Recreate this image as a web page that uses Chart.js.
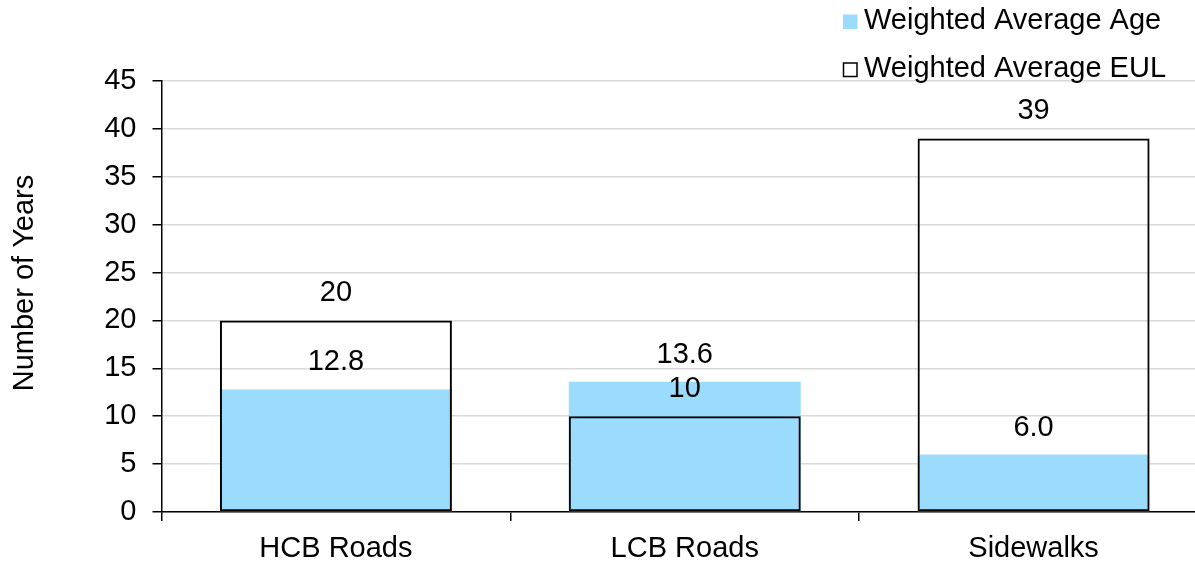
<!DOCTYPE html>
<html>
<head>
<meta charset="utf-8">
<script src="https://cdn.jsdelivr.net/npm/chart.js@4/dist/chart.umd.min.js"></script>
<style>
  html, body { margin: 0; padding: 0; background: #fff; overflow: hidden; }
  canvas { display: block; }
</style>
</head>
<body>
<canvas id="ageChart" width="1210" height="562"></canvas>
<script>
const categories = ['HCB Roads', 'LCB Roads', 'Sidewalks'];
const avgAge = [12.8, 13.6, 6.0];
const avgEul = [20, 10, 39];
const yTicks = [0, 5, 10, 15, 20, 25, 30, 35, 40, 45];

const FONT = '"Liberation Sans", Arial, sans-serif';
const FONT_SIZE = 29;
const AGE_BLUE = '#9BDCFD';

// value labels above each bar + legend + y title
const overlay = {
    id: 'overlay',
    afterDatasetsDraw(chart) {
        const ctx = chart.ctx;
        ctx.save();
        ctx.fillStyle = '#000';
        ctx.font = FONT_SIZE + 'px ' + FONT;
        ctx.textAlign = 'center';
        ctx.textBaseline = 'alphabetic';
        chart.data.datasets.forEach((ds, i) => {
            chart.getDatasetMeta(i).data.forEach((bar, j) => {
                ctx.fillText(ds.data[j].toFixed(ds.decimals), bar.x, bar.y - 19);
            });
        });

        // legend
        ctx.textAlign = 'left';
        const rows = [
            { text: chart.data.datasets[0].label, base: 29, fill: AGE_BLUE },
            { text: chart.data.datasets[1].label, base: 77, fill: null }
        ];
        rows.forEach(r => {
            if (r.fill) {
                ctx.fillStyle = r.fill;
                ctx.fillRect(843, r.base - 14.5, 14.5, 14.5);
            } else {
                ctx.strokeStyle = '#000';
                ctx.lineWidth = 1.5;
                ctx.strokeRect(843.5, r.base - 14, 13.5, 13.5);
            }
            ctx.fillStyle = '#000';
            ctx.fillText(r.text, 864, r.base);
        });

        // y axis title
        ctx.translate(33, 283);
        ctx.rotate(-Math.PI / 2);
        ctx.textAlign = 'center';
        ctx.fillText('Number of Years', 0, 0);
        ctx.restore();
    }
};

new Chart(document.getElementById('ageChart'), {
    type: 'bar',
    data: {
        labels: categories,
        datasets: [{
            label: 'Weighted Average Age',
            data: avgAge,
            decimals: 1,
            backgroundColor: AGE_BLUE,
            borderWidth: 0,
            order: 1
        }, {
            label: 'Weighted Average EUL',
            data: avgEul,
            decimals: 0,
            backgroundColor: 'rgba(0,0,0,0)',
            borderColor: '#000',
            borderWidth: 2,
            borderSkipped: false,
            order: 0
        }]
    },
    options: {
        responsive: false,
        animation: false,
        devicePixelRatio: 1,
        layout: { padding: { top: 81, right: 2, left: 0, bottom: 0 } },
        datasets: {
            bar: { grouped: false, barPercentage: 0.665, categoryPercentage: 1 }
        },
        plugins: {
            legend: { display: false },
            tooltip: { enabled: false }
        },
        scales: {
            x: {
                offset: true,
                afterFit: s => { s.height = 50; },
                grid: {
                    offset: true,
                    drawOnChartArea: false,
                    color: '#000',
                    lineWidth: 1.5,
                    tickLength: 9
                },
                border: { color: '#000', width: 1.5 },
                ticks: {
                    color: '#000',
                    font: { size: FONT_SIZE, family: FONT },
                    padding: 11,
                    autoSkip: false,
                    maxRotation: 0
                }
            },
            y: {
                min: 0,
                max: 45,
                afterFit: s => { s.width = 161.5; },
                afterBuildTicks: s => { s.ticks = yTicks.map(v => ({ value: v })); },
                grid: {
                    color: '#D9D9D9',
                    lineWidth: 1.5,
                    tickColor: '#000',
                    tickLength: 9
                },
                border: { color: '#000', width: 1.5 },
                ticks: {
                    color: '#000',
                    font: { size: FONT_SIZE, family: FONT },
                    padding: 16
                }
            }
        }
    },
    plugins: [overlay]
});
</script>
</body>
</html>
